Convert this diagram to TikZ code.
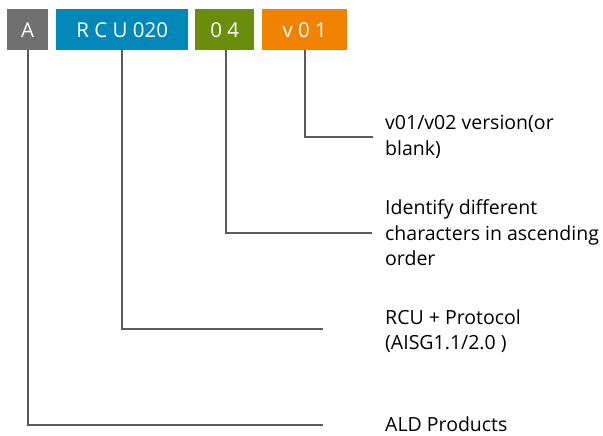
\documentclass[tikz,border=0pt]{standalone}
\usepackage{fontspec}
\setmainfont{Open Sans}
\definecolor{codegrey}{HTML}{707070}
\definecolor{codeblue}{HTML}{0088B8}
\definecolor{codegreen}{HTML}{6A8E0B}
\definecolor{codeorange}{HTML}{F18200}
\definecolor{leader}{HTML}{5A5A5A}
\begin{document}
\begin{tikzpicture}[x=1pt,y=-1pt,
  field/.style={fill=#1, text=white, minimum height=41pt, inner sep=0pt,
    font=\fontsize{20.5}{22}\selectfont, anchor=north west},
  note/.style={anchor=west, align=left, inner sep=0pt,
    font=\fontsize{19.5}{25.5}\selectfont},
  leadline/.style={draw=leader, line width=2pt}]
\useasboundingbox (0,0) rectangle (603,436);

% code fields
\node[field=codegrey,   minimum width=41pt]  (fa) at (7,9)   {A};
\node[field=codeblue,   minimum width=132pt] (fb) at (56,9)  {R C U 020};
\node[field=codegreen,  minimum width=59pt]  (fc) at (195,9) {0 4};
\node[field=codeorange, minimum width=85pt]  (fd) at (262,9) {v 0 1};

% explanations
\node[note] (nd) at (385,137) {v01/v02 version(or\\blank)};
\node[note] (nc) at (385,233) {Identify different\\characters in ascending\\order};
\node[note] (nb) at (385,331) {RCU + Protocol\\(AISG1.1/2.0 )};
\node[note, anchor=base west] (na) at (385,431) {ALD Products};

% ends of the leader lines
\coordinate (ed) at (373,137);
\coordinate (ec) at (372,233);
\coordinate (eb) at (323,329);
\coordinate (ea) at (323,425);

\draw[leadline] (fd.south) |- (ed);
\draw[leadline] ([xshift=1.5pt]fc.south) |- (ec);
\draw[leadline] (fb.south) |- (eb);
\draw[leadline] (fa.south) |- (ea);
\end{tikzpicture}
\end{document}
